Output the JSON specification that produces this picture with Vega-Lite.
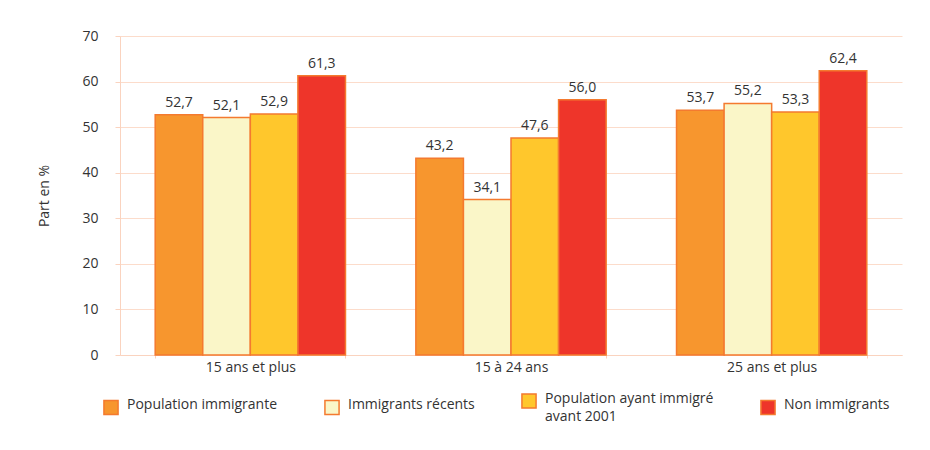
{
  "$schema": "https://vega.github.io/schema/vega-lite/v6.json",
  "width": 782,
  "height": 319,
  "autosize": "none",
  "padding": {"left": 120, "top": 36, "right": 28, "bottom": 95},
  "background": "white",
  "data": {
    "values": [
      {"groupe": "15 ans et plus", "serie": "Population immigrante", "valeur": 52.7},
      {"groupe": "15 ans et plus", "serie": "Immigrants récents", "valeur": 52.1},
      {"groupe": "15 ans et plus", "serie": "Population ayant immigré avant 2001", "valeur": 52.9},
      {"groupe": "15 ans et plus", "serie": "Non immigrants", "valeur": 61.3},
      {"groupe": "15 à 24 ans", "serie": "Population immigrante", "valeur": 43.2},
      {"groupe": "15 à 24 ans", "serie": "Immigrants récents", "valeur": 34.1},
      {"groupe": "15 à 24 ans", "serie": "Population ayant immigré avant 2001", "valeur": 47.6},
      {"groupe": "15 à 24 ans", "serie": "Non immigrants", "valeur": 56.0},
      {"groupe": "25 ans et plus", "serie": "Population immigrante", "valeur": 53.7},
      {"groupe": "25 ans et plus", "serie": "Immigrants récents", "valeur": 55.2},
      {"groupe": "25 ans et plus", "serie": "Population ayant immigré avant 2001", "valeur": 53.3},
      {"groupe": "25 ans et plus", "serie": "Non immigrants", "valeur": 62.4}
    ]
  },
  "encoding": {
    "x": {
      "field": "groupe",
      "type": "nominal",
      "sort": ["15 ans et plus", "15 à 24 ans", "25 ans et plus"],
      "scale": {"paddingInner": 0.27, "paddingOuter": 0.135},
      "axis": {
        "title": null,
        "labelAngle": 0,
        "tickBand": "extent",
        "tickSize": 3,
        "labelPadding": 2,
        "domainColor": "#FAD3BF",
        "tickColor": "#FAD3BF",
        "labelFontSize": 14,
        "labelColor": "#333333",
        "labelFont": "Open Sans",
        "grid": false
      }
    },
    "xOffset": {
      "field": "serie",
      "type": "nominal",
      "sort": ["Population immigrante", "Immigrants récents", "Population ayant immigré avant 2001", "Non immigrants"],
      "scale": {"paddingInner": 0, "paddingOuter": 0}
    },
    "y": {
      "field": "valeur",
      "type": "quantitative",
      "scale": {"domain": [0, 70], "nice": false},
      "axis": {
        "title": "Part en %",
        "titleFont": "Open Sans",
        "titleFontSize": 14,
        "titleFontWeight": "normal",
        "titleColor": "#333333",
        "titlePadding": 30,
        "values": [0, 10, 20, 30, 40, 50, 60, 70],
        "tickSize": 5,
        "labelPadding": 17,
        "labelFontSize": 14,
        "labelFont": "Open Sans",
        "labelColor": "#333333",
        "domainColor": "#FAD3BF",
        "tickColor": "#FAD3BF",
        "gridColor": "#FCDCCB",
        "grid": true
      }
    }
  },
  "layer": [
    {
      "mark": {"type": "bar", "stroke": "#F47A2F", "strokeWidth": 1.5},
      "encoding": {
        "color": {
          "field": "serie",
          "type": "nominal",
          "sort": ["Population immigrante", "Immigrants récents", "Population ayant immigré avant 2001", "Non immigrants"],
          "scale": {
            "domain": ["Population immigrante", "Immigrants récents", "Population ayant immigré avant 2001", "Non immigrants"],
            "range": ["#F7962E", "#FAF6C8", "#FFC72C", "#EE352A"]
          },
          "legend": {
            "title": null,
            "orient": "none",
            "legendX": -17,
            "legendY": 357,
            "direction": "horizontal",
            "columns": 4,
            "columnPadding": 43,
            "symbolType": "square",
            "symbolSize": 200,
            "symbolStrokeColor": "#F47A2F",
            "symbolStrokeWidth": 1.5,
            "symbolOpacity": 1,
            "labelFont": "Open Sans",
            "labelFontSize": 14,
            "labelColor": "#333333",
            "labelOffset": 8,
            "labelLimit": 300,
            "labelBaseline": "top",
            "labelExpr": "datum.label == 'Population ayant immigré avant 2001' ? ['Population ayant immigré', 'avant 2001'] : datum.label",
            "encode": {"labels": {"update": {"dy": {"value": -9}, "lineHeight": {"value": 18}}}}
          }
        }
      }
    },
    {
      "mark": {"type": "text", "baseline": "bottom", "dy": -5, "fontSize": 14, "font": "Open Sans", "color": "#333333"},
      "encoding": {
        "text": {"field": "valeur", "type": "quantitative", "format": ".1f"}
      }
    }
  ],
  "config": {
    "locale": {"number": {"decimal": ",", "thousands": " ", "grouping": [3], "currency": ["", " €"]}},
    "view": {"stroke": null}
  }
}
